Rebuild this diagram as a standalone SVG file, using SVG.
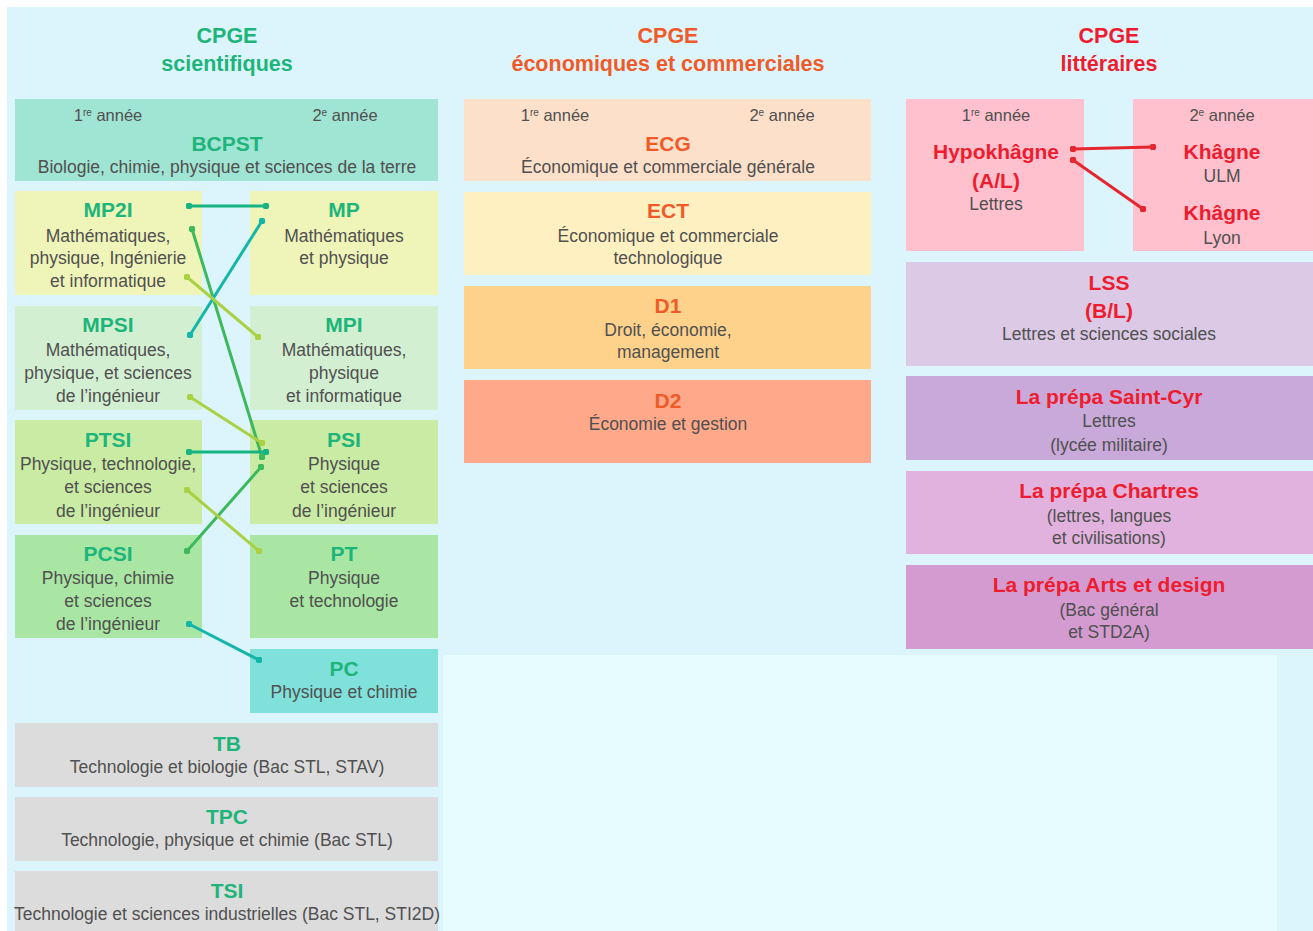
<svg xmlns="http://www.w3.org/2000/svg" width="1313" height="931" viewBox="0 0 1313 931">
<defs>
<style>
text{font-family:"Liberation Sans",Arial,sans-serif;text-anchor:middle}
.h{font-size:21.5px;font-weight:bold}
.n{font-size:21px;font-weight:bold}
.d{font-size:17.5px;fill:#505050}
.y{font-size:16.5px;fill:#505050}
.sci{fill:#1db57a}
.eco{fill:#f05a28}
.lit{fill:#ee1c2e}
.c{fill:none;stroke-width:3;stroke-linecap:round}
</style>
<marker id="dt" viewBox="0 0 6 6" refX="3" refY="3" markerWidth="2.2" markerHeight="2.2" markerUnits="strokeWidth"><circle cx="3" cy="3" r="3" fill="context-stroke"/></marker>
</defs>
<rect width="1313" height="931" fill="#ffffff"/>
<rect x="7" y="7" width="1306" height="924" fill="#dcf4fb"/>
<rect x="443" y="655" width="834" height="276" fill="#e6fcff"/>

<text class="h sci" x="227" y="43">CPGE</text>
<text class="h sci" x="227" y="71">scientifiques</text>
<text class="h eco" x="668" y="43">CPGE</text>
<text class="h eco" x="668" y="71">économiques et commerciales</text>
<text class="h lit" x="1109" y="43">CPGE</text>
<text class="h lit" x="1109" y="71">littéraires</text>

<g id="bcpst"><rect x="15" y="99" width="423" height="82" fill="#a0e4d3"/>
<text class="y" x="108" y="121">1<tspan font-size="10" dy="-5">re</tspan><tspan dy="5"> année</tspan></text>
<text class="y" x="345" y="121">2<tspan font-size="10" dy="-5">e</tspan><tspan dy="5"> année</tspan></text>
<text class="n sci" x="227" y="151">BCPST</text>
<text class="d" x="227" y="173">Biologie, chimie, physique et sciences de la terre</text></g>

<g id="mp2i"><rect x="15" y="191" width="187" height="104" fill="#eff4b8"/>
<text class="n sci" x="108" y="217">MP2I</text>
<text class="d" x="108" y="242">Mathématiques,</text><text class="d" x="108" y="264">physique, Ingénierie</text><text class="d" x="108" y="287">et informatique</text></g>
<g id="mp"><rect x="250" y="191" width="188" height="104" fill="#eff4b8"/>
<text class="n sci" x="344" y="217">MP</text>
<text class="d" x="344" y="242">Mathématiques</text><text class="d" x="344" y="264">et physique</text></g>

<g id="mpsi"><rect x="15" y="306" width="187" height="104" fill="#d3efd2"/>
<text class="n sci" x="108" y="332">MPSI</text>
<text class="d" x="108" y="356">Mathématiques,</text><text class="d" x="108" y="379">physique, et sciences</text><text class="d" x="108" y="402">de l’ingénieur</text></g>
<g id="mpi"><rect x="250" y="306" width="188" height="104" fill="#d3efd2"/>
<text class="n sci" x="344" y="332">MPI</text>
<text class="d" x="344" y="356">Mathématiques,</text><text class="d" x="344" y="379">physique</text><text class="d" x="344" y="402">et informatique</text></g>

<g id="ptsi"><rect x="15" y="420" width="187" height="104" fill="#c9eba3"/>
<text class="n sci" x="108" y="447">PTSI</text>
<text class="d" x="108" y="470">Physique, technologie,</text><text class="d" x="108" y="493">et sciences</text><text class="d" x="108" y="517">de l’ingénieur</text></g>
<g id="psi"><rect x="250" y="420" width="188" height="104" fill="#c9eba3"/>
<text class="n sci" x="344" y="447">PSI</text>
<text class="d" x="344" y="470">Physique</text><text class="d" x="344" y="493">et sciences</text><text class="d" x="344" y="517">de l’ingénieur</text></g>

<g id="pcsi"><rect x="15" y="535" width="187" height="103" fill="#a9e6a3"/>
<text class="n sci" x="108" y="561">PCSI</text>
<text class="d" x="108" y="584">Physique, chimie</text><text class="d" x="108" y="607">et sciences</text><text class="d" x="108" y="630">de l’ingénieur</text></g>
<g id="pt"><rect x="250" y="535" width="188" height="103" fill="#a9e6a3"/>
<text class="n sci" x="344" y="561">PT</text>
<text class="d" x="344" y="584">Physique</text><text class="d" x="344" y="607">et technologie</text></g>

<g id="pc"><rect x="250" y="649" width="188" height="64" fill="#80e0da"/>
<text class="n sci" x="344" y="676">PC</text>
<text class="d" x="344" y="698">Physique et chimie</text></g>

<g id="tb"><rect x="15" y="723" width="423" height="64" fill="#dcdcdc"/>
<text class="n sci" x="227" y="751">TB</text>
<text class="d" x="227" y="773">Technologie et biologie (Bac STL, STAV)</text></g>
<g id="tpc"><rect x="15" y="797" width="423" height="64" fill="#dcdcdc"/>
<text class="n sci" x="227" y="824">TPC</text>
<text class="d" x="227" y="846">Technologie, physique et chimie (Bac STL)</text></g>
<g id="tsi"><rect x="15" y="871" width="423" height="60" fill="#dcdcdc"/>
<text class="n sci" x="227" y="898">TSI</text>
<text class="d" x="227" y="920">Technologie et sciences industrielles (Bac STL, STI2D)</text></g>

<g id="ecg"><rect x="464" y="99" width="407" height="82" fill="#fde0c9"/>
<text class="y" x="555" y="121">1<tspan font-size="10" dy="-5">re</tspan><tspan dy="5"> année</tspan></text>
<text class="y" x="782" y="121">2<tspan font-size="10" dy="-5">e</tspan><tspan dy="5"> année</tspan></text>
<text class="n eco" x="668" y="151">ECG</text>
<text class="d" x="668" y="173">Économique et commerciale générale</text></g>
<g id="ect"><rect x="464" y="192" width="407" height="83" fill="#fff0c2"/>
<text class="n eco" x="668" y="218">ECT</text>
<text class="d" x="668" y="242">Économique et commerciale</text><text class="d" x="668" y="264">technologique</text></g>
<g id="d1"><rect x="464" y="286" width="407" height="83" fill="#ffd28c"/>
<text class="n eco" x="668" y="313">D1</text>
<text class="d" x="668" y="336">Droit, économie,</text><text class="d" x="668" y="358">management</text></g>
<g id="d2"><rect x="464" y="380" width="407" height="83" fill="#ffa98a"/>
<text class="n eco" x="668" y="408">D2</text>
<text class="d" x="668" y="430">Économie et gestion</text></g>

<g id="hypokhagne"><rect x="906" y="99" width="178" height="152" fill="#ffc1cd"/>
<text class="y" x="996" y="121">1<tspan font-size="10" dy="-5">re</tspan><tspan dy="5"> année</tspan></text>
<text class="n lit" x="996" y="159">Hypokhâgne</text>
<text class="n lit" x="996" y="188">(A/L)</text>
<text class="d" x="996" y="210">Lettres</text></g>
<g id="khagne"><rect x="1133" y="99" width="180" height="152" fill="#ffc1cd"/>
<text class="y" x="1222" y="121">2<tspan font-size="10" dy="-5">e</tspan><tspan dy="5"> année</tspan></text>
<text class="n lit" x="1222" y="159">Khâgne</text>
<text class="d" x="1222" y="182">ULM</text>
<text class="n lit" x="1222" y="220">Khâgne</text>
<text class="d" x="1222" y="244">Lyon</text></g>
<g id="lss"><rect x="906" y="262" width="407" height="104" fill="#dcc9e5"/>
<text class="n lit" x="1109" y="290">LSS</text>
<text class="n lit" x="1109" y="318">(B/L)</text>
<text class="d" x="1109" y="340">Lettres et sciences sociales</text></g>
<g id="saintcyr"><rect x="906" y="376" width="407" height="84" fill="#c8a9d9"/>
<text class="n lit" x="1109" y="404">La prépa Saint-Cyr</text>
<text class="d" x="1109" y="427">Lettres</text><text class="d" x="1109" y="451">(lycée militaire)</text></g>
<g id="chartres"><rect x="906" y="471" width="407" height="83" fill="#e1b2dd"/>
<text class="n lit" x="1109" y="498">La prépa Chartres</text>
<text class="d" x="1109" y="522">(lettres, langues</text><text class="d" x="1109" y="544">et civilisations)</text></g>
<g id="arts"><rect x="906" y="565" width="407" height="84" fill="#d49bd1"/>
<text class="n lit" x="1109" y="592">La prépa Arts et design</text>
<text class="d" x="1109" y="616">(Bac général</text><text class="d" x="1109" y="638">et STD2A)</text></g>

<g id="connectors">
<line class="c" x1="189" y1="206" x2="266" y2="206" stroke="#16b482" marker-start="url(#dt)" marker-end="url(#dt)"/>
<line class="c" x1="192" y1="229" x2="262" y2="457" stroke="#3db85c" marker-start="url(#dt)" marker-end="url(#dt)"/>
<line class="c" x1="262" y1="221" x2="190" y2="335" stroke="#14b6aa" marker-start="url(#dt)" marker-end="url(#dt)"/>
<line class="c" x1="187" y1="277" x2="258" y2="337" stroke="#a9d143" marker-start="url(#dt)" marker-end="url(#dt)"/>
<line class="c" x1="190" y1="397" x2="262" y2="443" stroke="#a9d143" marker-start="url(#dt)" marker-end="url(#dt)"/>
<line class="c" x1="189" y1="452" x2="266" y2="452" stroke="#16b482" marker-start="url(#dt)" marker-end="url(#dt)"/>
<line class="c" x1="187" y1="551" x2="261" y2="467" stroke="#3db85c" marker-start="url(#dt)" marker-end="url(#dt)"/>
<line class="c" x1="187" y1="490" x2="259" y2="551" stroke="#a9d143" marker-start="url(#dt)" marker-end="url(#dt)"/>
<line class="c" x1="189" y1="624" x2="259" y2="660" stroke="#14b6aa" marker-start="url(#dt)" marker-end="url(#dt)"/>
<line class="c" x1="1073" y1="149" x2="1153" y2="147" stroke="#e6262e" marker-start="url(#dt)" marker-end="url(#dt)"/>
<line class="c" x1="1073" y1="160" x2="1143" y2="209" stroke="#e6262e" marker-start="url(#dt)" marker-end="url(#dt)"/>
</g>
</svg>
